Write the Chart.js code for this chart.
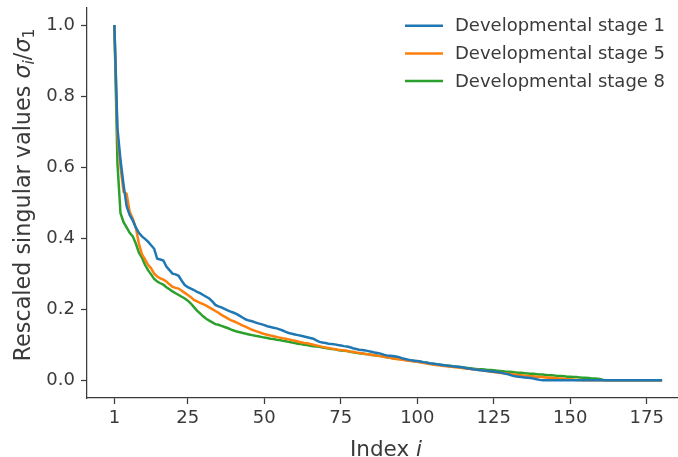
<!DOCTYPE html>
<html><head><meta charset="utf-8">
<script src="https://cdn.jsdelivr.net/npm/chart.js@4.4.1/dist/chart.umd.min.js"></script>
<style>html,body{margin:0;padding:0;background:#fff;}canvas{display:block;}</style>
</head><body>
<canvas id="c" width="678" height="457"></canvas>
<script>
const seriesLabels = ['Developmental stage 1', 'Developmental stage 5', 'Developmental stage 8'];
const seriesColors = ['#1f77b4', '#ff7f0e', '#2ca02c'];

const stage1 = [
  1.0, 0.71, 0.62, 0.55, 0.49, 0.465, 0.45, 0.43, 0.415, 0.405,
  0.398, 0.39, 0.38, 0.37, 0.342, 0.34, 0.337, 0.32, 0.31, 0.30,
  0.298, 0.294, 0.28, 0.268, 0.262, 0.258, 0.254, 0.249, 0.245, 0.24,
  0.235, 0.23, 0.222, 0.212, 0.208, 0.205, 0.201, 0.197, 0.193, 0.19,
  0.186, 0.181, 0.176, 0.171, 0.168, 0.166, 0.163, 0.16, 0.158, 0.155,
  0.152, 0.15, 0.148, 0.146, 0.143, 0.14, 0.136, 0.133, 0.131, 0.129,
  0.127, 0.125, 0.123, 0.121, 0.119, 0.117, 0.112, 0.108, 0.106, 0.105,
  0.103, 0.102, 0.101, 0.099, 0.098, 0.096, 0.095, 0.093, 0.09, 0.088,
  0.086, 0.085, 0.084, 0.082, 0.08, 0.078, 0.077, 0.075, 0.072, 0.07,
  0.069, 0.068, 0.067, 0.065, 0.062, 0.06, 0.058, 0.056, 0.055, 0.054,
  0.053, 0.051, 0.05, 0.048, 0.047, 0.046, 0.044, 0.043, 0.042, 0.041,
  0.04, 0.039, 0.038, 0.037, 0.036, 0.034, 0.033, 0.031, 0.03, 0.029,
  0.028, 0.027, 0.026, 0.025, 0.024, 0.023, 0.022, 0.02, 0.018, 0.016,
  0.013, 0.011, 0.01, 0.009, 0.008, 0.007, 0.006, 0.005, 0.003, 0.001,
  0, 0, 0, 0, 0, 0, 0, 0, 0, 0,
  0, 0, 0, 0, 0, 0, 0, 0, 0, 0,
  0, 0, 0, 0, 0, 0, 0, 0, 0, 0,
  0, 0, 0, 0, 0, 0, 0, 0, 0, 0
];

const stage5 = [
  1.0, 0.69, 0.60, 0.53, 0.525, 0.474, 0.455, 0.43, 0.385, 0.355,
  0.34, 0.325, 0.315, 0.30, 0.292, 0.287, 0.283, 0.278, 0.27, 0.263,
  0.26, 0.258, 0.252, 0.246, 0.24, 0.234, 0.226, 0.222, 0.218, 0.214,
  0.21, 0.205, 0.2, 0.195, 0.19, 0.184, 0.179, 0.174, 0.169, 0.166,
  0.162, 0.158, 0.154, 0.15, 0.146, 0.142, 0.139, 0.136, 0.133, 0.13,
  0.128, 0.126, 0.124, 0.122, 0.12, 0.118, 0.117, 0.115, 0.113, 0.111,
  0.109, 0.107, 0.105, 0.104, 0.102, 0.1, 0.098, 0.096, 0.094, 0.092,
  0.091, 0.089, 0.088, 0.086, 0.085, 0.084, 0.083, 0.081, 0.08, 0.078,
  0.077, 0.076, 0.074, 0.073, 0.072, 0.071, 0.069, 0.068, 0.066, 0.065,
  0.063, 0.061, 0.06, 0.059, 0.058, 0.056, 0.055, 0.054, 0.053, 0.052,
  0.05, 0.049, 0.047, 0.046, 0.044, 0.043, 0.042, 0.041, 0.04, 0.039,
  0.038, 0.037, 0.036, 0.035, 0.034, 0.033, 0.032, 0.031, 0.03, 0.029,
  0.028, 0.027, 0.025, 0.024, 0.023, 0.022, 0.021, 0.02, 0.019, 0.018,
  0.017, 0.016, 0.015, 0.014, 0.013, 0.012, 0.011, 0.011, 0.01, 0.009,
  0.009, 0.008, 0.007, 0.007, 0.006, 0.005, 0.005, 0.004, 0.003, 0.003,
  0.002, 0.001, 0.0005, 0, 0, 0, 0, 0, 0, 0,
  0, 0, 0, 0, 0, 0, 0, 0, 0, 0,
  0, 0, 0, 0, 0, 0, 0, 0, 0, 0
];

const stage8 = [
  1.0, 0.61, 0.47, 0.445, 0.43, 0.415, 0.405, 0.385, 0.36, 0.345,
  0.325, 0.31, 0.298, 0.285, 0.278, 0.273, 0.269, 0.262, 0.256, 0.25,
  0.245, 0.24, 0.235, 0.23, 0.224, 0.216, 0.206, 0.196, 0.188, 0.18,
  0.173, 0.168, 0.163, 0.158, 0.156, 0.153, 0.15, 0.147, 0.143, 0.14,
  0.137, 0.135, 0.133, 0.131, 0.129, 0.127, 0.125, 0.124, 0.122, 0.12,
  0.119, 0.117, 0.116, 0.114, 0.113, 0.111, 0.11, 0.108, 0.106, 0.105,
  0.103, 0.102, 0.1, 0.099, 0.097, 0.096, 0.095, 0.094, 0.092, 0.091,
  0.089, 0.088, 0.087, 0.085, 0.084, 0.083, 0.082, 0.08, 0.079, 0.077,
  0.076, 0.075, 0.074, 0.073, 0.071, 0.07, 0.069, 0.068, 0.067, 0.065,
  0.064, 0.062, 0.061, 0.06, 0.059, 0.058, 0.056, 0.055, 0.054, 0.053,
  0.052, 0.05, 0.049, 0.047, 0.046, 0.045, 0.044, 0.043, 0.042, 0.041,
  0.04, 0.039, 0.038, 0.037, 0.036, 0.035, 0.034, 0.033, 0.032, 0.031,
  0.031, 0.03, 0.029, 0.029, 0.028, 0.027, 0.026, 0.025, 0.024, 0.024,
  0.023, 0.022, 0.021, 0.021, 0.02, 0.019, 0.018, 0.018, 0.017, 0.016,
  0.016, 0.015, 0.014, 0.014, 0.013, 0.012, 0.012, 0.011, 0.01, 0.01,
  0.009, 0.009, 0.008, 0.007, 0.007, 0.006, 0.005, 0.005, 0.004, 0.003,
  0, 0, 0, 0, 0, 0, 0, 0, 0, 0,
  0, 0, 0, 0, 0, 0, 0, 0, 0, 0
];

const xTickValues = [1, 25, 50, 75, 100, 125, 150, 175];
const yTickValues = [0, 0.2, 0.4, 0.6, 0.8, 1.0];
const xTitleMain = 'Index ';
const xTitleVar = 'i';
const yTitleMain = 'Rescaled singular values ';

const TEXT = '#3a3a3a';
const FONT = '"DejaVu Sans", "Liberation Sans", sans-serif';
Chart.defaults.font.family = FONT;

const allSeries = [stage1, stage5, stage8];
const datasets = allSeries.map((vals, k) => ({
  label: seriesLabels[k],
  data: vals.map((v, j) => ({ x: j + 1, y: v })),
  borderColor: seriesColors[k],
  backgroundColor: seriesColors[k],
  borderWidth: 2.5,
  pointRadius: 0,
  tension: 0,
  fill: false
}));

function drawSegments(c, segs, cx, cy) {
  let total = 0;
  segs.forEach(s => { c.font = s.f; s.w = c.measureText(s.t).width; total += s.w; });
  let x = cx - total / 2;
  segs.forEach(s => { c.font = s.f; c.fillText(s.t, x, cy + (s.dy || 0)); x += s.w; });
}

const overlay = {
  id: 'overlay',
  afterDraw(chart) {
    const c = chart.ctx;
    c.save();
    c.fillStyle = TEXT;
    c.textAlign = 'left';
    c.textBaseline = 'alphabetic';
    const N = '21.5px ' + FONT, I = 'italic 21.5px ' + FONT;
    drawSegments(c, [{ t: xTitleMain, f: N }, { t: xTitleVar, f: I }], 386, 456);
    const YN = '22.3px ' + FONT, YI = 'italic 22.3px ' + FONT;
    const SI = 'italic 15.6px ' + FONT, SN = '15.6px ' + FONT;
    c.translate(29.5, 195);
    c.rotate(-Math.PI / 2);
    drawSegments(c, [
      { t: yTitleMain, f: YN },
      { t: 'σ', f: YI },
      { t: 'i', f: SI, dy: 4.5 },
      { t: '/', f: YN },
      { t: 'σ', f: YI },
      { t: '1', f: SN, dy: 4.5 }
    ], 0, 0);
    c.restore();

    c.save();
    c.font = '18px ' + FONT;
    c.textBaseline = 'middle';
    c.textAlign = 'left';
    chart.data.datasets.forEach((ds, k) => {
      const y = 25.7 + k * 27.7;
      c.strokeStyle = ds.borderColor;
      c.lineWidth = 2.5;
      c.beginPath();
      c.moveTo(405, y);
      c.lineTo(443, y);
      c.stroke();
      c.fillStyle = TEXT;
      c.fillText(ds.label, 455, y + 1);
    });
    c.restore();
  }
};

new Chart(document.getElementById('c').getContext('2d'), {
  type: 'line',
  data: { datasets },
  options: {
    responsive: false,
    animation: false,
    devicePixelRatio: 1,
    layout: { padding: { top: 7.25, right: 0, left: 0, bottom: 0 } },
    plugins: { legend: { display: false }, tooltip: { enabled: false } },
    scales: {
      x: {
        type: 'linear',
        min: -7.95,
        max: 185.2,
        afterBuildTicks: s => { s.ticks = xTickValues.map(v => ({ value: v })); },
        afterFit: s => { s.height = 59; s.paddingLeft = 0; s.paddingRight = 0; },
        grid: { drawOnChartArea: false, drawTicks: true, tickLength: 6, tickWidth: 1.25, tickColor: TEXT },
        border: { display: true, color: TEXT, width: 1.25 },
        ticks: { color: TEXT, font: { size: 18 }, padding: 4, maxRotation: 0, autoSkip: false,
                 callback: v => String(v) }
      },
      y: {
        type: 'linear',
        min: -0.05,
        max: 1.05,
        afterBuildTicks: s => { s.ticks = yTickValues.map(v => ({ value: v })); },
        afterFit: s => { s.width = 87; s.paddingTop = 0; s.paddingBottom = 0; },
        grid: { drawOnChartArea: false, drawTicks: true, tickLength: 6, tickWidth: 1.25, tickColor: TEXT },
        border: { display: true, color: TEXT, width: 1.25 },
        ticks: { color: TEXT, font: { size: 18 }, padding: 6, autoSkip: false,
                 callback: v => Number(v).toFixed(1) }
      }
    }
  },
  plugins: [overlay]
});
</script>
</body></html>
